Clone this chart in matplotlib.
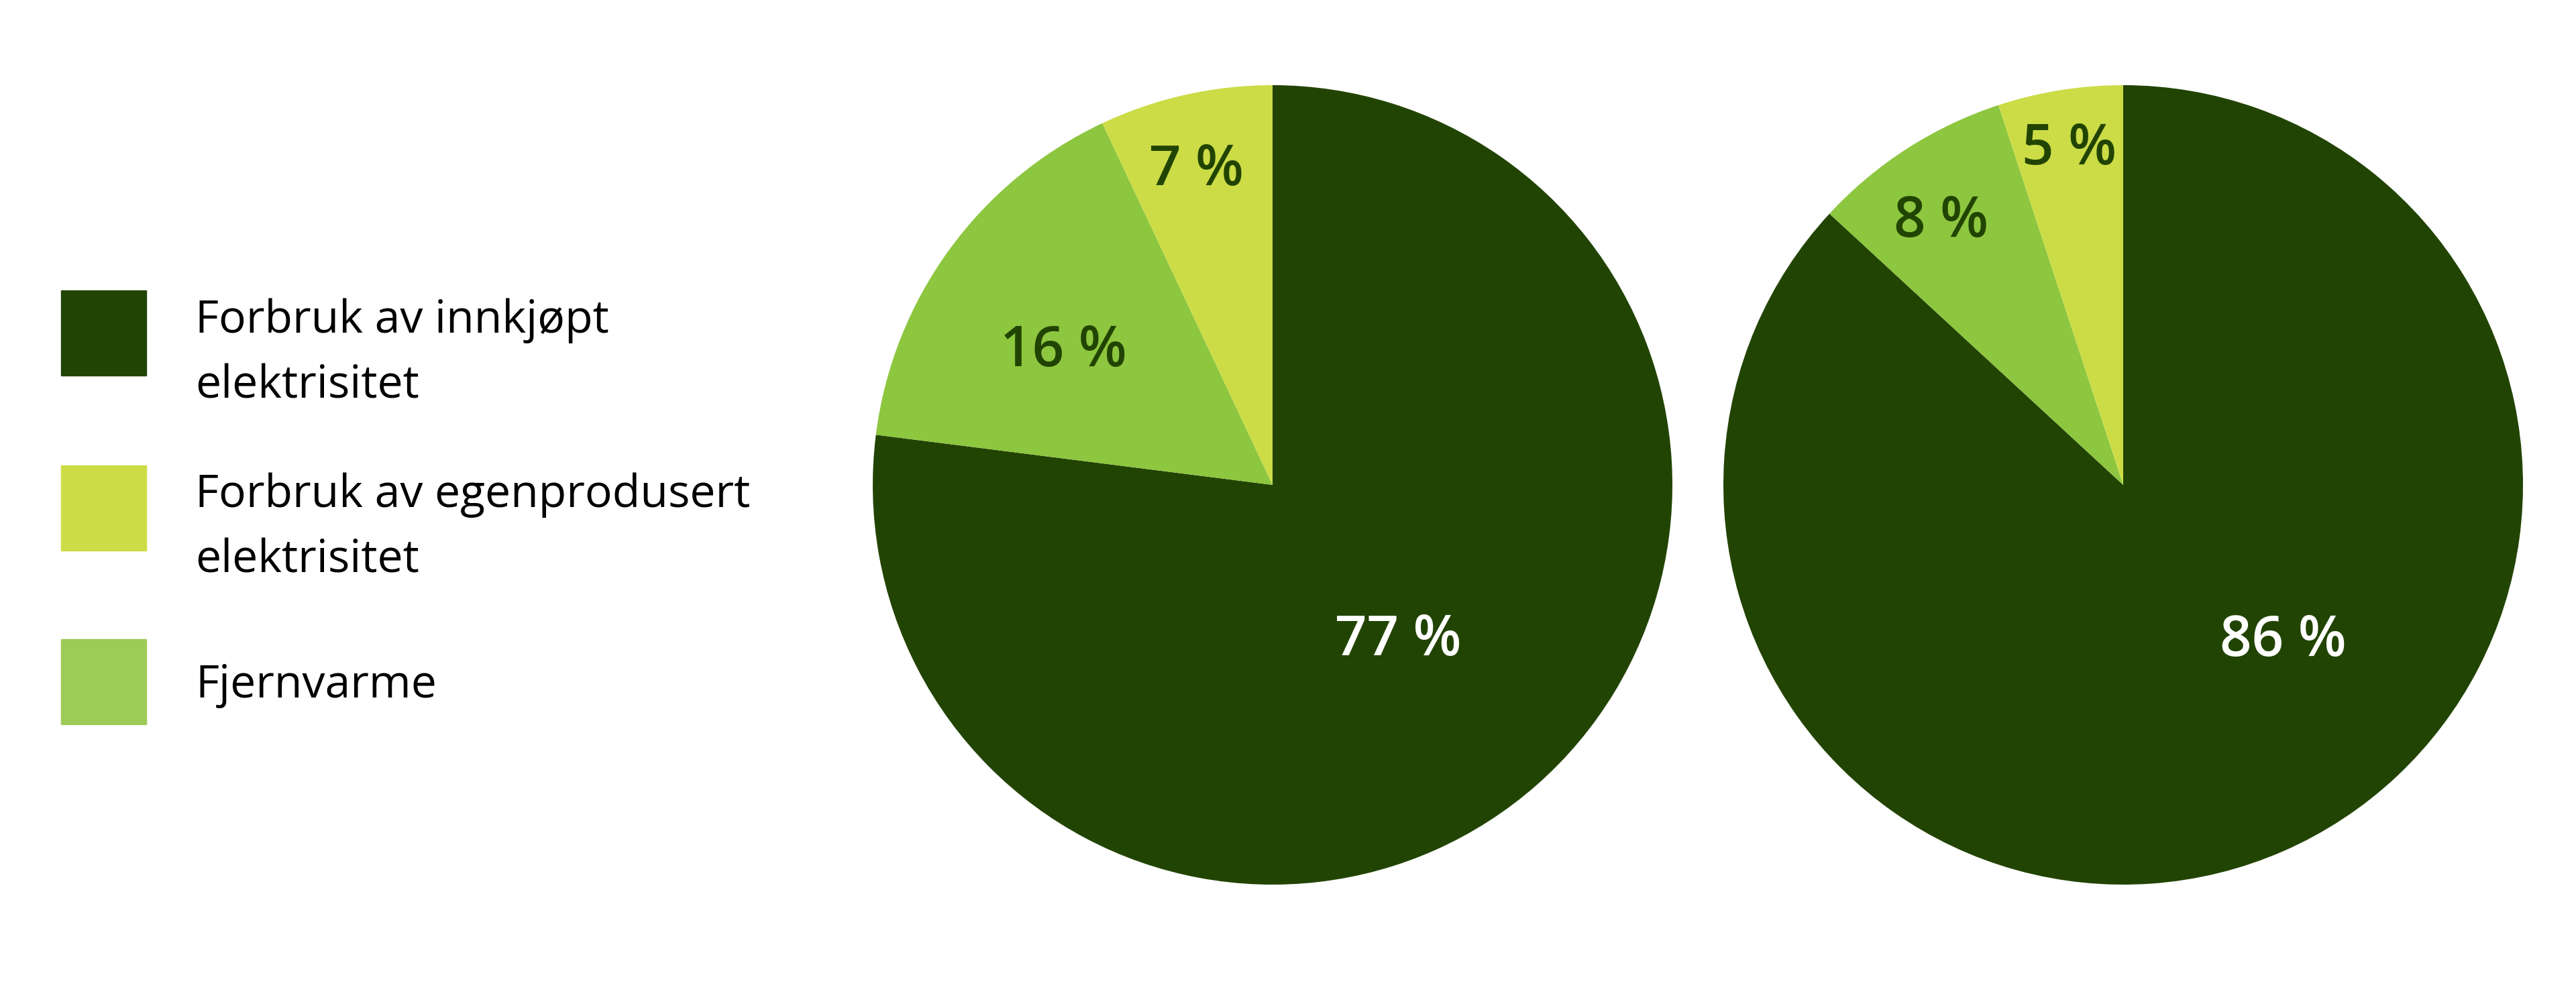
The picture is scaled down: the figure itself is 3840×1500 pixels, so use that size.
import numpy as np
import matplotlib
matplotlib.use("Agg")
import matplotlib.pyplot as plt
from matplotlib.patches import Rectangle

plt.rcParams['font.family'] = ['Open Sans', 'DejaVu Sans']

# donnees
kategorier = ["Forbruk av innkjøpt\nelektrisitet",
              "Forbruk av egenprodusert\nelektrisitet",
              "Fjernvarme"]
andel_1 = [77, 16, 7]     # kjøpt, fjernvarme, egenprodusert (rekkefølge i kaka)
andel_2 = [86, 8, 5]
etiketter_1 = ["77 %", "16 %", "7 %"]
etiketter_2 = ["86 %", "8 %", "5 %"]

mork = "#224403"
gul = "#CBDC46"
mellom = "#8DC63F"
farger_kake = [mork, mellom, gul]
farger_legende = [mork, gul, "#9CCB57"]
tekstfarger = ["white", mork, mork]

W, H = 3840, 1500
fig = plt.figure(figsize=(W / 100, H / 100), dpi=100)

def tegn_kake(cx, cy, r, verdier, etiketter, avstand, skift):
    ax = fig.add_axes([(cx - r) / W, 1 - (cy + r) / H, 2 * r / W, 2 * r / H])
    wedges, _ = ax.pie(verdier, colors=farger_kake, startangle=90,
                       counterclock=False, radius=1,
                       wedgeprops=dict(linewidth=0))
    for w, txt, d, s, c in zip(wedges, etiketter, avstand, skift, tekstfarger):
        vinkel = np.deg2rad((w.theta1 + w.theta2) / 2 + s)
        ax.text(d * np.cos(vinkel), d * np.sin(vinkel), txt, ha='center',
                va='center', fontsize=60, fontweight='semibold', color=c)
    ax.set_xlim(-1, 1)
    ax.set_ylim(-1, 1)
    ax.set_aspect('equal')
    ax.axis('off')

tegn_kake(1897, 723, 596, andel_1, etiketter_1, [0.50, 0.62, 0.81], [-2.5, 3.5, 1])
tegn_kake(3165, 723, 596, andel_2, etiketter_2, [0.56, 0.80, 0.85], [22, 2, 0])

# legende
rute_y = [497, 757, 1016]
for navn, farge, y in zip(kategorier, farger_legende, rute_y):
    s = 127
    fig.patches.append(Rectangle((91 / W, 1 - (y + s / 2) / H), s / W, s / H,
                                 transform=fig.transFigure, color=farge))
    n = navn.count("\n")
    fig.text(291 / W, 1 - (y + 24 * n + 6) / H, navn, ha='left', va='center',
             fontsize=49, color='black', linespacing=1.58)

fig.savefig("out.png", dpi=100, facecolor='white')
